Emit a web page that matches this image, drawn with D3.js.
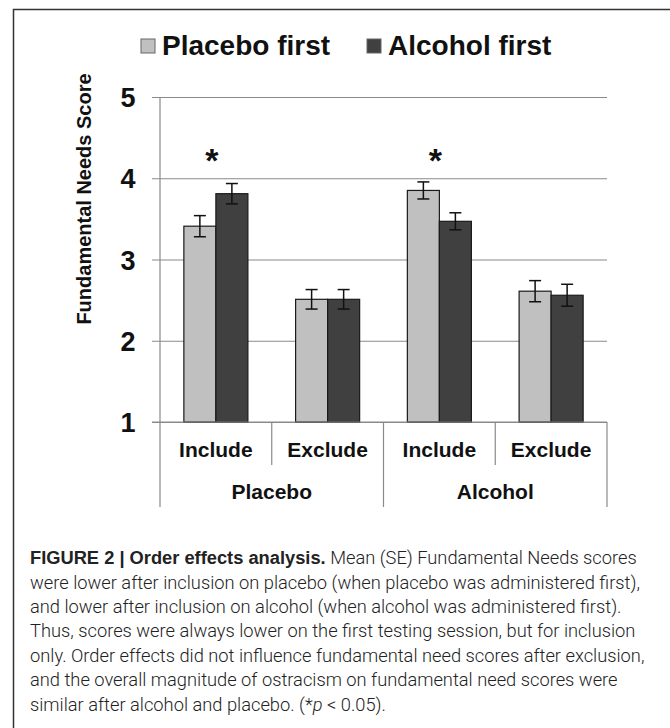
<!DOCTYPE html>
<html>
<head>
<meta charset="utf-8">
<script src="https://cdn.jsdelivr.net/npm/d3@7"></script>
<style>
  body { margin: 0; background: #fff; }
  svg { display: block; }
  .chart text { font-family: "Liberation Sans", Arial, sans-serif; font-weight: bold; fill: #111; }
  .caption text { font-family: Roboto, "Liberation Sans", sans-serif; font-weight: 300; fill: #222; }
</style>
</head>
<body>
<div class="chart"></div>
<script>
'use strict';

// data
var conditions = ['Placebo', 'Alcohol'];
var phases = ['Include', 'Exclude'];
var series = ['Placebo first', 'Alcohol first'];
var placeboFirst = [3.41, 2.51, 3.85, 2.61];
var alcoholFirst = [3.81, 2.51, 3.47, 2.56];
var placeboFirstSE = [0.13, 0.12, 0.105, 0.13];
var alcoholFirstSE = [0.125, 0.12, 0.105, 0.135];
var significant = [true, false, true, false];
var yTicks = [1, 2, 3, 4, 5];
var captionLines = [
  'were lower after inclusion on placebo (when placebo was administered first),',
  'and lower after inclusion on alcohol (when alcohol was administered first).',
  'Thus, scores were always lower on the first testing session, but for inclusion',
  'only. Order effects did not influence fundamental need scores after exclusion,',
  'and the overall magnitude of ostracism on fundamental need scores were'
];

var colors = { 'Placebo first': '#c0c0c0', 'Alcohol first': '#404040' };

var W = 670, H = 728;
var plot = { left: 160, right: 607, top: 97, bottom: 422 };

var cells = [];
conditions.forEach(function (c, ci) {
  phases.forEach(function (p, pi) {
    var i = ci * 2 + pi;
    cells.push({
      key: c + '|' + p, condition: c, phase: p, i: i,
      values: [
        { s: series[0], v: placeboFirst[i], se: placeboFirstSE[i] },
        { s: series[1], v: alcoholFirst[i], se: alcoholFirstSE[i] }
      ]
    });
  });
});

var x = d3.scaleBand().domain(cells.map(function (d) { return d.key; }))
  .range([plot.left, plot.right]).paddingInner(0.427).paddingOuter(0.2135);
var xs = d3.scaleBand().domain(series).range([0, x.bandwidth()]);
var y = d3.scaleLinear().domain([1, 5]).range([plot.bottom, plot.top]);

var svg = d3.select('.chart').append('svg').attr('width', W).attr('height', H);

// frame (top and left edges visible)
svg.append('path').attr('d', 'M13.5,' + H + 'V9.5H' + W)
  .attr('fill', 'none').attr('stroke', '#333').attr('stroke-width', 1.5);

var g = svg.append('g');

// gridlines + y axis
var yAxis = d3.axisLeft(y).tickValues(yTicks).tickSize(-(plot.right - plot.left)).tickSizeOuter(0).tickFormat(d3.format('d')).tickPadding(0);
var ya = g.append('g').attr('transform', 'translate(' + plot.left + ',0)').call(yAxis);
ya.select('.domain').remove();
ya.selectAll('.tick line').attr('x1', -8).attr('stroke', '#8a8a8a').attr('stroke-width', 1.2);
ya.selectAll('.tick text').attr('x', -32).attr('dy', '0.36em').attr('text-anchor', 'middle')
  .style('font-size', '27px').style('font-family', '"Liberation Sans", Arial, sans-serif').style('font-weight', 'bold').attr('fill', '#111');

// vertical axis line and category dividers
g.append('line').attr('x1', plot.left).attr('x2', plot.left).attr('y1', plot.top).attr('y2', plot.bottom)
  .attr('stroke', '#8a8a8a').attr('stroke-width', 1.2);
var step = x.step();
var dividers = d3.range(0, cells.length + 1).map(function (k) {
  return { x: plot.left + k * step, long: k % 2 === 0 };
});
g.selectAll('line.div').data(dividers).enter().append('line').attr('class', 'div')
  .attr('x1', function (d) { return d.x; }).attr('x2', function (d) { return d.x; })
  .attr('y1', plot.bottom).attr('y2', function (d) { return d.long ? 507 : 465; })
  .attr('stroke', '#8a8a8a').attr('stroke-width', 1.2);

// bars
var cg = g.selectAll('g.cell').data(cells).enter().append('g').attr('class', 'cell')
  .attr('transform', function (d) { return 'translate(' + x(d.key) + ',0)'; });
cg.selectAll('rect').data(function (d) { return d.values; }).enter().append('rect')
  .attr('x', function (d) { return xs(d.s); })
  .attr('y', function (d) { return y(d.v); })
  .attr('width', xs.bandwidth())
  .attr('height', function (d) { return y(1) - y(d.v); })
  .attr('fill', function (d) { return colors[d.s]; })
  .attr('stroke', '#1a1a1a').attr('stroke-width', 1.2);

// error bars
var eb = cg.selectAll('g.err').data(function (d) { return d.values; }).enter().append('g').attr('class', 'err')
  .attr('transform', function (d) { return 'translate(' + (xs(d.s) + xs.bandwidth() / 2) + ',0)'; });
eb.append('line').attr('y1', function (d) { return y(d.v + d.se); }).attr('y2', function (d) { return y(d.v - d.se); })
  .attr('stroke', '#111').attr('stroke-width', 1.5);
eb.selectAll('line.cap').data(function (d) { return [d.v + d.se, d.v - d.se]; }).enter().append('line').attr('class', 'cap')
  .attr('x1', -6).attr('x2', 6).attr('y1', function (v) { return y(v); }).attr('y2', function (v) { return y(v); })
  .attr('stroke', '#111').attr('stroke-width', 1.5);

// x axis line
g.append('line').attr('x1', plot.left - 8).attr('x2', plot.right).attr('y1', plot.bottom).attr('y2', plot.bottom)
  .attr('stroke', '#8a8a8a').attr('stroke-width', 1.2);

// significance
cg.filter(function (d) { return significant[d.i]; }).append('text')
  .attr('x', x.bandwidth() / 2 - 4).attr('y', y(4.28) + 16)
  .attr('text-anchor', 'middle').style('font-size', '34px').text('*');

// category labels
g.selectAll('text.phase').data(cells).enter().append('text').attr('class', 'phase')
  .attr('x', function (d) { return x(d.key) + x.bandwidth() / 2; }).attr('y', 457)
  .attr('text-anchor', 'middle').style('font-size', '21px').text(function (d) { return d.phase; });
g.selectAll('text.cond').data(conditions).enter().append('text').attr('class', 'cond')
  .attr('x', function (d, i) { return plot.left + step * (2 * i + 1); }).attr('y', 499)
  .attr('text-anchor', 'middle').style('font-size', '21px').text(function (d) { return d; });

// y title
g.append('text').attr('transform', 'translate(91,199) rotate(-90)').attr('text-anchor', 'middle')
  .style('font-size', '20px').text('Fundamental Needs Score');

// legend
var legX = [141, 367];
var lg = g.selectAll('g.leg').data(series).enter().append('g').attr('class', 'leg')
  .attr('transform', function (d, i) { return 'translate(' + legX[i] + ',39)'; });
lg.append('rect').attr('width', 14).attr('height', 14)
  .attr('fill', function (d) { return colors[d]; }).attr('stroke', '#666').attr('stroke-width', 1);
lg.append('text').attr('x', 21).attr('y', 16).style('font-size', '28px').text(function (d) { return d; });

// caption
var cap = svg.append('g').attr('class', 'caption');
var capSize = 18.3;
var first = cap.append('text').attr('x', 30).attr('y', 564).style('font-size', capSize + 'px');
first.append('tspan').style('font-weight', 'bold').style('font-family', '"Liberation Sans", Arial, sans-serif').style('fill', '#222')
  .text('FIGURE 2 | Order effects analysis.');
first.append('tspan').text(' Mean (SE) Fundamental Needs scores');
cap.selectAll('text.ln').data(captionLines).enter().append('text').attr('class', 'ln')
  .attr('x', 30).attr('y', function (d, i) { return 588.5 + i * 24.4; })
  .style('font-size', capSize + 'px').text(function (d) { return d; });
var last = cap.append('text').attr('x', 30).attr('y', 588.5 + 5 * 24.4).style('font-size', capSize + 'px');
last.append('tspan').text('similar after alcohol and placebo. (*');
last.append('tspan').style('font-style', 'italic').text('p');
last.append('tspan').text(' < 0.05).');
</script>
</body>
</html>
